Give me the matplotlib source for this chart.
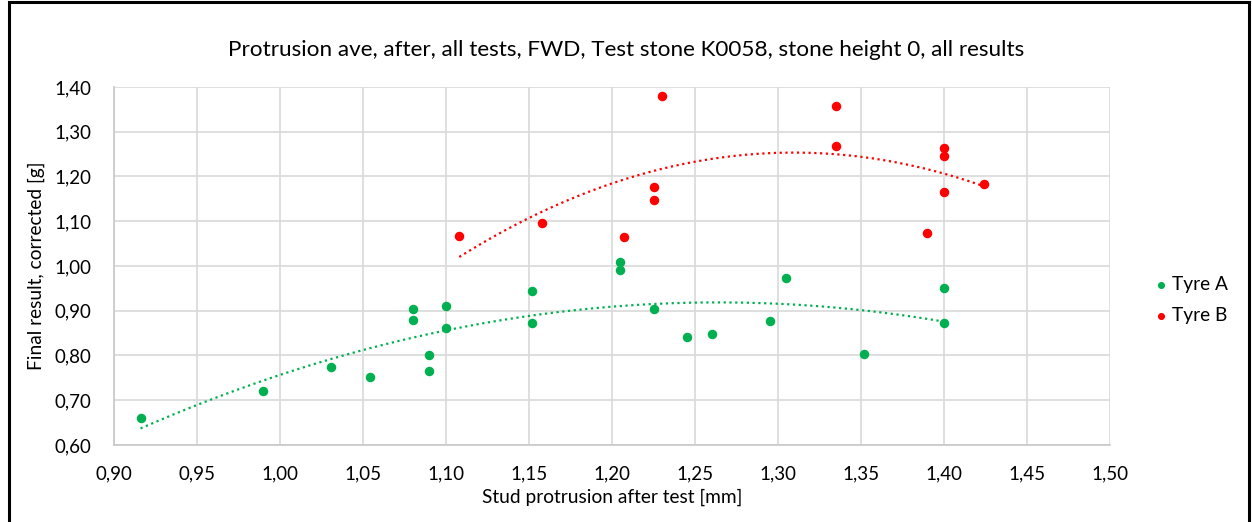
import matplotlib.pyplot as plt
import numpy as np
from matplotlib.patches import Rectangle
from matplotlib.ticker import FuncFormatter, MultipleLocator

plt.rcParams['font.family'] = ['Lato', 'DejaVu Sans']

# Tyre A (green)
tyre_a_x = [0.916, 0.990, 1.031, 1.054, 1.080, 1.080, 1.090, 1.090, 1.100, 1.100,
            1.152, 1.152, 1.205, 1.205, 1.225, 1.245, 1.260, 1.295, 1.305, 1.352,
            1.400, 1.400]
tyre_a_y = [0.660, 0.720, 0.775, 0.752, 0.903, 0.880, 0.801, 0.766, 0.910, 0.861,
            0.944, 0.872, 1.009, 0.990, 0.903, 0.841, 0.848, 0.878, 0.974, 0.804,
            0.950, 0.872]

# Tyre B (red)
tyre_b_x = [1.108, 1.158, 1.207, 1.225, 1.225, 1.230, 1.335, 1.335, 1.390, 1.400,
            1.400, 1.400, 1.424]
tyre_b_y = [1.068, 1.097, 1.064, 1.177, 1.148, 1.380, 1.358, 1.268, 1.073, 1.264,
            1.245, 1.165, 1.183]

green = '#00b050'
red = '#ff0000'

fig = plt.figure(figsize=(12.52, 5.22), dpi=100)
ax = fig.add_axes([114 / 1252, 1 - 445 / 522, (1110 - 114) / 1252, (445 - 87) / 522])

ax.scatter(tyre_a_x, tyre_a_y, s=34, color=green, zorder=3, label='Tyre A')
ax.scatter(tyre_b_x, tyre_b_y, s=34, color=red, zorder=3, label='Tyre B')

# 2nd order polynomial trendlines
for xs, ys, c in [(tyre_a_x, tyre_a_y, green), (tyre_b_x, tyre_b_y, red)]:
    coef = np.polyfit(xs, ys, 2)
    xx = np.linspace(min(xs), max(xs), 200)
    ax.plot(xx, np.polyval(coef, xx), linestyle=(0, (1, 1.6)), color=c, lw=1.6, zorder=2)

ax.set_xlim(0.90, 1.50)
ax.set_ylim(0.60, 1.40)
ax.xaxis.set_major_locator(MultipleLocator(0.05))
ax.yaxis.set_major_locator(MultipleLocator(0.10))
comma = FuncFormatter(lambda v, p: f'{v:.2f}'.replace('.', ','))
ax.xaxis.set_major_formatter(comma)
ax.yaxis.set_major_formatter(comma)
ax.tick_params(length=0, labelsize=13.5, colors='#000000')
ax.tick_params(axis='x', pad=15)
ax.tick_params(axis='y', pad=16)
ax.grid(True, color='#d9d9d9', lw=1.2)
ax.set_axisbelow(True)
for side in ['top', 'right']:
    ax.spines[side].set_visible(False)
for side in ['left', 'bottom']:
    ax.spines[side].set_color('#c8c8c8')
    ax.spines[side].set_linewidth(1.2)

ax.set_xlabel('Stud protrusion after test [mm]', fontsize=13.8, labelpad=4)
ax.set_ylabel('Final result, corrected [g]', fontsize=13.8, labelpad=7)
fig.text(0.5, 1 - 50 / 522, 'Protrusion ave, after, all tests, FWD, Test stone K0058, stone height 0, all results',
         ha='center', va='center', fontsize=16.2)

ax.legend(loc='center left', bbox_to_anchor=(1153 / 1252, 1 - 300 / 522), bbox_transform=fig.transFigure,
          frameon=False, fontsize=13.8, handletextpad=0.2, handlelength=0.8, borderaxespad=0, borderpad=0,
          markerscale=0.7, labelspacing=0.75)

# outer frame
fig.patches.append(Rectangle((9 / 1252, -0.05), (1249 - 9) / 1252, 1.05 - 1.5 / 522,
                             transform=fig.transFigure, fill=False, edgecolor='black', lw=2.2))

fig.savefig('out.png', dpi=100)
